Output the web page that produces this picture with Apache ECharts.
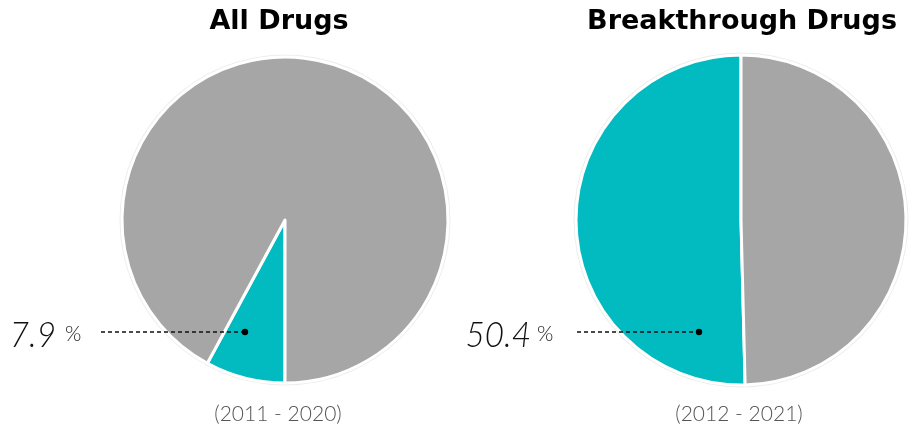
<!DOCTYPE html>
<html>
<head>
<meta charset="utf-8">
<script src="https://cdn.jsdelivr.net/npm/echarts@6/dist/echarts.min.js"></script>
<style>
  html, body { margin: 0; padding: 0; background: #fff; }
  #chart { width: 914px; height: 430px; }
</style>
</head>
<body>
<div id="chart"></div>
<script>
// Share of approvals, two groups
const titles = ['All Drugs', 'Breakthrough Drugs'];
const periods = ['(2011 - 2020)', '(2012 - 2021)'];
const sliceNames = ['Share', 'Other'];
const allDrugsValues = [7.9, 92.1];
const breakthroughValues = [50.4, 49.6];

const TEAL = '#02BBC1';
const GREY = '#A6A6A6';
const FONT = 'Lato, "Noto Sans", sans-serif';
const TITLE_FONT = '"DejaVu Sans", sans-serif';

const chart = echarts.init(document.getElementById('chart'));

const centers = [[285, 220], [741, 220]];
const radii = [163, 165];
const groups = [allDrugsValues, breakthroughValues];

function pieSeries(i) {
  const vals = groups[i];
  return {
    type: 'pie',
    center: centers[i],
    radius: radii[i],
    startAngle: i === 0 ? -90 : 90,
    clockwise: i === 0,
    silent: true,
    label: { show: false },
    labelLine: { show: false },
    itemStyle: { borderColor: '#fff', borderWidth: 3 },
    data: vals.map((v, k) => ({
      name: sliceNames[k],
      value: v,
      itemStyle: { color: k === 0 ? TEAL : GREY }
    }))
  };
}

function ringSeries(i) {
  return {
    type: 'pie',
    center: centers[i],
    radius: [radii[i] + 1, radii[i] + 2.5],
    silent: true,
    label: { show: false },
    labelLine: { show: false },
    itemStyle: { color: '#ededed' },
    data: [{ value: 1 }]
  };
}

// value callouts: text + dashed leader ending in a dot inside the teal slice
const callouts = [
  { value: allDrugsValues[0], textX: 56, pctX: 65, lineX1: 101, dotX: 245, y: 332 },
  { value: breakthroughValues[0], textX: 531, pctX: 537, lineX1: 577, dotX: 699, y: 332 }
];

const graphic = [];
callouts.forEach(c => {
  graphic.push({
    type: 'text', x: c.textX, y: c.y + 21,
    scaleX: 0.95,
    style: {
      text: String(c.value), font: 'italic 300 35px ' + FONT,
      fill: '#111', textAlign: 'right', textVerticalAlign: 'bottom'
    }
  });
  graphic.push({
    type: 'text', x: c.pctX, y: c.y - 8,
    style: {
      text: '%', font: '300 21px ' + FONT,
      fill: '#222', textAlign: 'left', textVerticalAlign: 'top'
    }
  });
  graphic.push({
    type: 'line',
    shape: { x1: c.lineX1, y1: c.y, x2: c.dotX, y2: c.y },
    style: { stroke: '#111', lineWidth: 1.3, lineDash: [4, 3] },
    z: 10
  });
  graphic.push({
    type: 'circle',
    shape: { cx: c.dotX, cy: c.y, r: 3.2 },
    style: { fill: '#000' },
    z: 10
  });
});

const periodX = [278, 739];
titles.forEach((t, i) => {
  graphic.push({
    type: 'text', x: centers[i][0] - (i === 0 ? 6 : -1), y: 22,
    style: {
      text: t, font: 'bold 27px ' + TITLE_FONT, fill: '#000',
      textAlign: 'center', textVerticalAlign: 'middle'
    }
  });
  graphic.push({
    type: 'text', x: periodX[i], y: 414,
    style: {
      text: periods[i], font: '300 21px ' + FONT, fill: '#555',
      textAlign: 'center', textVerticalAlign: 'middle'
    }
  });
});

chart.setOption({
  animation: false,
  series: [ringSeries(0), ringSeries(1), pieSeries(0), pieSeries(1)],
  graphic: graphic
});
</script>
</body>
</html>
